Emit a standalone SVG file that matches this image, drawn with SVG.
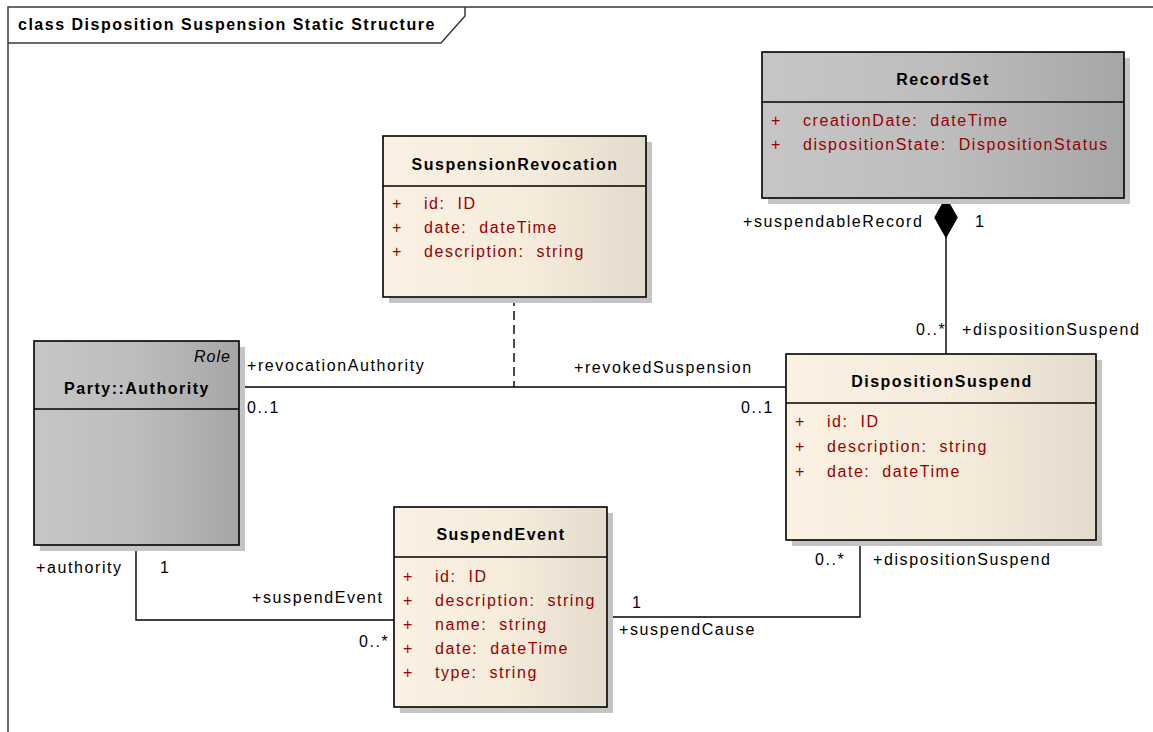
<svg xmlns="http://www.w3.org/2000/svg" width="1153" height="732" viewBox="0 0 1153 732">
<style>
text{font-family:"Liberation Sans",Arial,sans-serif;font-size:16px;fill:#000;white-space:pre}
.title{font-weight:bold;letter-spacing:1.5px;text-anchor:middle}
.frame-title{font-weight:bold;letter-spacing:1.5px}
.attr{fill:#990000;letter-spacing:1.55px}
.lbl{letter-spacing:1.6px}
.role{font-style:italic;letter-spacing:1px}
.box{stroke:#000;stroke-width:1.6}
.cream{fill:url(#cream)}
.gray{fill:url(#gray)}
.shadow{fill:#c4c4c4}
.sep{stroke:#000;stroke-width:1.6}
.conn{fill:none;stroke:#000;stroke-width:1.4}
.dash{stroke-dasharray:9 5}
.diamond{fill:#000;stroke:#000;stroke-width:1.4}
</style>
<defs>
<linearGradient id="cream" x1="0" y1="0" x2="1" y2="0">
<stop offset="0" stop-color="#fbf1e2"/>
<stop offset="0.55" stop-color="#f6ecdc"/>
<stop offset="1" stop-color="#e5dbcc"/>
</linearGradient>
<linearGradient id="gray" x1="0" y1="0" x2="1" y2="0">
<stop offset="0" stop-color="#c6c6c6"/>
<stop offset="0.5" stop-color="#bdbdbd"/>
<stop offset="1" stop-color="#a6a6a6"/>
</linearGradient>
</defs>
<rect width="1153" height="732" fill="#fff"/>
<g id="frame">
<path d="M8,732 V7 H1153" fill="none" stroke="#3a3a3a" stroke-width="1.5"/>
<path d="M8,43 H441 L465,16 V7" fill="none" stroke="#3a3a3a" stroke-width="1.5"/>
<text class="frame-title" x="18" y="30">class Disposition Suspension Static Structure</text>
</g>
<g id="connectors">
<path class="conn" d="M946,237 V354"/>
<path class="diamond" d="M946,198 L957,217.5 L946,237 L935,217.5 Z"/>
<path class="conn" d="M239,387 H786"/>
<path class="conn dash" d="M514,297 V387"/>
<path class="conn" d="M860,540 V617 H607"/>
<path class="conn" d="M136,545 V620 H394"/>
<text class="lbl" x="743" y="227">+suspendableRecord</text>
<text class="lbl" x="975" y="227">1</text>
<text class="lbl" x="916" y="335">0..*</text>
<text class="lbl" x="962" y="335">+dispositionSuspend</text>
<text class="lbl" x="247" y="371">+revocationAuthority</text>
<text class="lbl" x="247" y="413">0..1</text>
<text class="lbl" x="574" y="373">+revokedSuspension</text>
<text class="lbl" x="741" y="413">0..1</text>
<text class="lbl" x="815" y="565">0..*</text>
<text class="lbl" x="873" y="565">+dispositionSuspend</text>
<text class="lbl" x="632" y="608">1</text>
<text class="lbl" x="619" y="635">+suspendCause</text>
<text class="lbl" x="36" y="573">+authority</text>
<text class="lbl" x="160" y="573">1</text>
<text class="lbl" x="252" y="603">+suspendEvent</text>
<text class="lbl" x="359" y="647">0..*</text>
</g>
<g id="RecordSet">
<rect class="shadow" x="768" y="58" width="362" height="146"/>
<rect class="box gray" x="762" y="52" width="362" height="146"/>
<line class="sep" x1="762" y1="102" x2="1124" y2="102"/>
<text class="title" x="943" y="85">RecordSet</text>
<text class="attr" x="771" y="126">+</text>
<text class="attr" x="803" y="126">creationDate:  dateTime</text>
<text class="attr" x="771" y="150">+</text>
<text class="attr" x="803" y="150">dispositionState:  DispositionStatus</text>
</g>
<g id="SuspensionRevocation">
<rect class="shadow" x="389" y="142" width="263" height="161"/>
<rect class="box cream" x="383" y="136" width="263" height="161"/>
<line class="sep" x1="383" y1="186" x2="646" y2="186"/>
<text class="title" x="515" y="170">SuspensionRevocation</text>
<text class="attr" x="392" y="209">+</text>
<text class="attr" x="424" y="209">id:  ID</text>
<text class="attr" x="392" y="233">+</text>
<text class="attr" x="424" y="233">date:  dateTime</text>
<text class="attr" x="392" y="257">+</text>
<text class="attr" x="424" y="257">description:  string</text>
</g>
<g id="PartyAuthority">
<rect class="shadow" x="40" y="347" width="205" height="204"/>
<rect class="box gray" x="34" y="341" width="205" height="204"/>
<line class="sep" x1="34" y1="409" x2="239" y2="409"/>
<text class="role" x="194" y="362">Role</text>
<text class="title" x="137" y="394">Party::Authority</text>
</g>
<g id="DispositionSuspend">
<rect class="shadow" x="792" y="360" width="310" height="186"/>
<rect class="box cream" x="786" y="354" width="310" height="186"/>
<line class="sep" x1="786" y1="403" x2="1096" y2="403"/>
<text class="title" x="942" y="387">DispositionSuspend</text>
<text class="attr" x="795" y="427">+</text>
<text class="attr" x="827" y="427">id:  ID</text>
<text class="attr" x="795" y="452">+</text>
<text class="attr" x="827" y="452">description:  string</text>
<text class="attr" x="795" y="477">+</text>
<text class="attr" x="827" y="477">date:  dateTime</text>
</g>
<g id="SuspendEvent">
<rect class="shadow" x="400" y="513" width="213" height="200"/>
<rect class="box cream" x="394" y="507" width="213" height="200"/>
<line class="sep" x1="394" y1="557" x2="607" y2="557"/>
<text class="title" x="501" y="540">SuspendEvent</text>
<text class="attr" x="403" y="582">+</text>
<text class="attr" x="435" y="582">id:  ID</text>
<text class="attr" x="403" y="606">+</text>
<text class="attr" x="435" y="606">description:  string</text>
<text class="attr" x="403" y="630">+</text>
<text class="attr" x="435" y="630">name:  string</text>
<text class="attr" x="403" y="654">+</text>
<text class="attr" x="435" y="654">date:  dateTime</text>
<text class="attr" x="403" y="678">+</text>
<text class="attr" x="435" y="678">type:  string</text>
</g>
</svg>
